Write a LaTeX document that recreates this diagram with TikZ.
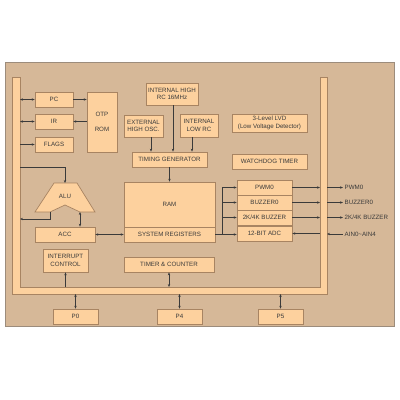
\documentclass[tikz,border=0pt]{standalone}
\usepackage{fontspec}
\setmainfont{Liberation Sans}
\usetikzlibrary{arrows.meta}
\definecolor{bgtan}{HTML}{D6B898}
\definecolor{bgline}{HTML}{9C8C7C}
\definecolor{boxfill}{HTML}{FDD19E}
\definecolor{boxline}{HTML}{A88462}
\definecolor{linecol}{HTML}{3A3A3A}
\definecolor{txtcol}{HTML}{3A3A3A}
\begin{document}
\begin{tikzpicture}[x=1pt,y=-1pt,
  blk/.style={draw=boxline, fill=boxfill, line width=0.7pt, inner sep=0pt,
    font=\fontsize{6.2}{7.4}\selectfont, text=txtcol, align=center},
  conn/.style={draw=linecol, line width=0.5pt},
  tip/.style={-{Stealth[length=3pt,width=2.4pt]}},
  tips/.style={{Stealth[length=3pt,width=2.4pt]}-{Stealth[length=3pt,width=2.4pt]}},
  lbl/.style={font=\fontsize{6.2}{7.4}\selectfont, text=txtcol, anchor=west, inner sep=1.5pt}]
\useasboundingbox (0,0) rectangle (400,400);
% background
\fill[white] (0,0) rectangle (400,400);
\draw[fill=bgtan, draw=bgline, line width=0.6pt] (5,62) rectangle (394,326);
% bus
\draw[fill=boxfill, draw=boxline, line width=0.7pt]
  (12,77) -- (12,294) -- (327,294) -- (327,77) -- (320,77) -- (320,287)
  -- (20,287) -- (20,77) -- cycle;
\coordinate (busLi) at (20,0);
\coordinate (busRi) at (320,0);
\coordinate (busRo) at (327,0);
\coordinate (busBi) at (0,287);
\coordinate (busBo) at (0,294);
% left column
\node[blk, minimum width=38pt, minimum height=15pt] (pc) at (54,99.5) {PC};
\node[blk, minimum width=38pt, minimum height=15pt] (ir) at (54,121.5) {IR};
\node[blk, minimum width=38pt, minimum height=15pt] (flags) at (54,144.5) {FLAGS};
\node[blk, minimum width=30pt, minimum height=60pt, font=\fontsize{6.2}{15}\selectfont] (rom) at (102,122) {OTP\\ROM};
% clocks
\node[blk, minimum width=52pt, minimum height=22pt] (ihrc) at (172,94) {INTERNAL HIGH\\RC 16MHz};
\node[blk, minimum width=39pt, minimum height=22pt] (ext) at (143.5,126) {EXTERNAL\\HIGH OSC.};
\node[blk, minimum width=38pt, minimum height=23pt] (ilrc) at (199,125.5) {INTERNAL\\LOW RC};
\node[blk, minimum width=75pt, minimum height=15pt] (tg) at (169.5,159.5) {TIMING GENERATOR};
% RAM
\node[blk, minimum width=91pt, minimum height=45pt] (ram) at (169.5,204.5) {RAM};
\node[blk, minimum width=91pt, minimum height=15pt] (sys) at (169.5,234.5) {SYSTEM REGISTERS};
% right
\node[blk, minimum width=75pt, minimum height=18pt] (lvd) at (269.5,123) {3-Level LVD\\(Low Voltage Detector)};
\node[blk, minimum width=75pt, minimum height=15pt] (wdt) at (269.5,161.5) {WATCHDOG TIMER};
\node[blk, minimum width=55pt, minimum height=15pt] (pwm) at (264.5,187.5) {PWM0};
\node[blk, minimum width=55pt, minimum height=15pt] (buz) at (264.5,202.5) {BUZZER0};
\node[blk, minimum width=55pt, minimum height=15pt] (buzk) at (264.5,217.5) {2K/4K BUZZER};
\node[blk, minimum width=55pt, minimum height=15pt] (adc) at (264.5,233.5) {12-BIT ADC};
% ALU etc
\draw[fill=boxfill, draw=boxline, line width=0.7pt]
  (54,183) -- (77,183) -- (95,212) -- (80,212) -- (65,205) -- (50,212) -- (35,212) -- cycle;
\node[font=\fontsize{6.2}{7.4}\selectfont, text=txtcol, inner sep=0pt] (alu) at (65,196) {ALU};
\coordinate (aluT) at (65,183);
\coordinate (aluL) at (50,212);
\coordinate (aluR) at (80,212);
\node[blk, minimum width=60pt, minimum height=15pt] (acc) at (65,234.5) {ACC};
\node[blk, minimum width=45pt, minimum height=23pt] (int) at (65.5,260.5) {INTERRUPT\\CONTROL};
\node[blk, minimum width=90pt, minimum height=15pt] (tc) at (169,264.5) {TIMER \& COUNTER};
% ports
\node[blk, minimum width=45pt, minimum height=15pt] (p0) at (75.5,316.5) {P0};
\node[blk, minimum width=45pt, minimum height=15pt] (p4) at (179.5,316.5) {P4};
\node[blk, minimum width=45pt, minimum height=15pt] (p5) at (280.5,316.5) {P5};
% output labels
\node[lbl] (lpwm) at (343,187.5) {PWM0};
\node[lbl] (lbuz) at (343,202.5) {BUZZER0};
\node[lbl] (lbuzk) at (343,217.5) {2K/4K BUZZER};
\node[lbl] (lain) at (343,234) {AIN0\textasciitilde AIN4};
% connectors left
\draw[conn,tips] (pc.west -| busLi) -- (pc.west);
\draw[conn,tips] (ir.west -| busLi) -- (ir.west);
\draw[conn,tip] (flags.west -| busLi) -- (flags.west);
\draw[conn,tip] (pc.east) -- (pc.east -| rom.west);
\draw[conn,tip] (ir.east -| rom.west) -- (ir.east);
\draw[conn,tip] (busLi |- 0,167) -- (aluT |- 0,167) -- (aluT);
\draw[conn,tip] (aluL) -- (aluL |- 0,219) -- (busLi |- 0,219);
\draw[conn,tips] (aluR) -- (aluR |- acc.north);
\draw[conn,tips] (acc.east) -- (acc.east -| sys.west);
% clocks
\draw[conn,tip] ([xshift=7.5pt]ext.south) -- ([xshift=7.5pt]ext.south |- tg.north);
\draw[conn,tip] ([xshift=1pt]ihrc.south) -- ([xshift=1pt]ihrc.south |- tg.north);
\draw[conn,tip] ([xshift=-7pt]ilrc.south) -- ([xshift=-7pt]ilrc.south |- tg.north);
\draw[conn,tip] (tg.south) -- (tg.south |- ram.north);
% sysreg to peripherals
\coordinate (spl) at (222,0);
\draw[conn] (spl |- pwm.west) -- (spl |- sys.east);
\draw[conn,tip] (sys.east) -- (sys.east -| adc.west);
\draw[conn,tip] (spl |- pwm.west) -- (pwm.west);
\draw[conn,tip] (spl |- buz.west) -- (buz.west);
\draw[conn,tip] (spl |- buzk.west) -- (buzk.west);
% peripherals to bus and outside
\draw[conn,tip] (pwm.east) -- (pwm.east -| busRi);
\draw[conn,tip] (buz.east) -- (buz.east -| busRi);
\draw[conn,tip] (buzk.east) -- (buzk.east -| busRi);
\draw[conn,tip] (adc.east -| busRi) -- (adc.east);
\draw[conn,tip] (lpwm.west -| busRo) -- (lpwm.west);
\draw[conn,tip] (lbuz.west -| busRo) -- (lbuz.west);
\draw[conn,tip] (lbuzk.west -| busRo) -- (lbuzk.west);
\draw[conn,tip] (lain.west) -- (lain.west -| busRo);
% bottom
\draw[conn,tip] (int.south |- busBi) -- (int.south);
\draw[conn,tips] (tc.south) -- (tc.south |- busBi);
\draw[conn,tips] (p0.north |- busBo) -- (p0.north);
\draw[conn,tips] (p4.north |- busBo) -- (p4.north);
\draw[conn,tips] (p5.north |- busBo) -- (p5.north);
\end{tikzpicture}
\end{document}
